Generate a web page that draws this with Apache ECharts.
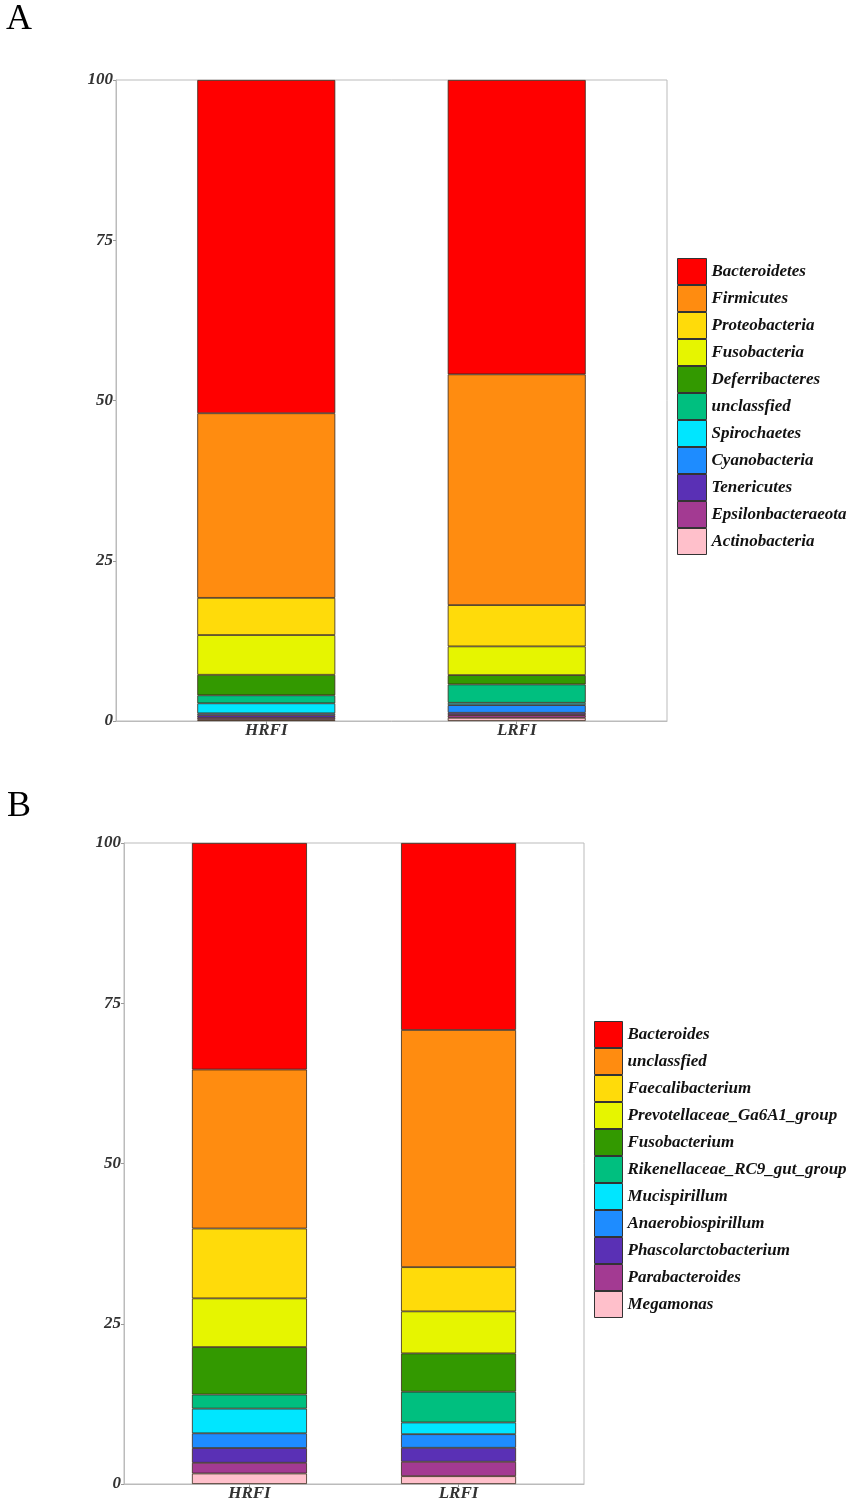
<!DOCTYPE html>
<html>
<head>
<meta charset="utf-8">
<script src="https://cdn.jsdelivr.net/npm/echarts@6/dist/echarts.min.js"></script>
<style>
  html, body { margin: 0; padding: 0; background: #fff; }
  #chart { width: 851px; height: 1504px; }
</style>
</head>
<body>
<div id="chart"></div>
<script>
var groups = ['HRFI', 'LRFI'];
// category slots so that the two bars sit where the original plot put them
var slots = ['', '', '', 'HRFI', '', '', '', '', 'LRFI', '', '', ''];
var colors = ['#FF0000', '#FF8C10', '#FFDB0A', '#E6F500', '#339900', '#00BF7F',
              '#00E6FF', '#1E8CFF', '#5A30B5', '#A33A92', '#FFC0CB'];
var yTicks = [0, 25, 50, 75, 100];

// panel A: phylum level
var phylumNames = ['Bacteroidetes', 'Firmicutes', 'Proteobacteria', 'Fusobacteria', 'Deferribacteres',
                   'unclassfied', 'Spirochaetes', 'Cyanobacteria', 'Tenericutes', 'Epsilonbacteraeota', 'Actinobacteria'];
var phylumHRFI = [51.99, 28.8, 5.8, 6.2, 3.2, 1.25, 1.56, 0.3, 0.4, 0.3, 0.2];
var phylumLRFI = [45.92, 36.0, 6.44, 4.48, 1.45, 2.87, 0.36, 1.2, 0.36, 0.42, 0.5];

// panel B: genus level
var genusNames = ['Bacteroides', 'unclassfied', 'Faecalibacterium', 'Prevotellaceae_Ga6A1_group', 'Fusobacterium',
                  'Rikenellaceae_RC9_gut_group', 'Mucispirillum', 'Anaerobiospirillum', 'Phascolarctobacterium',
                  'Parabacteroides', 'Megamonas'];
var genusHRFI = [35.34, 24.8, 10.9, 7.6, 7.4, 2.2, 3.85, 2.3, 2.3, 1.67, 1.64];
var genusLRFI = [29.17, 37.0, 6.9, 6.55, 5.98, 4.8, 1.83, 2.12, 2.18, 2.25, 1.22];

var serif = 'Liberation Serif, Times New Roman, serif';
var myChart = echarts.init(document.getElementById('chart'));

function isGroup(i) {
    return groups.indexOf(slots[i]) >= 0;
}

function buildSeries(names, hr, lr, idx, barW) {
    var res = [];
    // bottom of the stack is the last taxon
    for (var i = names.length - 1; i >= 0; i--) {
        var data = slots.map(function (s) {
            if (s === groups[0]) return hr[i];
            if (s === groups[1]) return lr[i];
            return null;
        });
        res.push({
            type: 'bar',
            name: names[i],
            stack: 'p' + idx,
            xAxisIndex: idx,
            yAxisIndex: idx,
            barWidth: barW,
            data: data,
            itemStyle: { color: colors[i], borderColor: '#3a2a1a', borderWidth: 0.8 }
        });
    }
    return res;
}

function legendData(names) {
    return names.map(function (n, i) {
        return { name: n, itemStyle: { color: colors[i], borderColor: '#333', borderWidth: 1 } };
    });
}

function xAxis(idx) {
    return {
        type: 'category', gridIndex: idx, data: slots, boundaryGap: false,
        splitLine: { show: false },
        axisLine: { show: true, lineStyle: { color: '#bbb' } },
        axisTick: { show: true, interval: isGroup, length: 3, lineStyle: { color: '#999' } },
        axisLabel: {
            interval: isGroup, margin: 1,
            fontFamily: serif, fontStyle: 'italic', fontWeight: 'bold', fontSize: 17, color: '#333'
        }
    };
}

function yAxis(idx) {
    return {
        type: 'value', gridIndex: idx, min: 0, max: 100, interval: 25,
        splitLine: { show: false },
        axisLine: { show: true, lineStyle: { color: '#bbb' } },
        axisTick: { show: true, length: 3, lineStyle: { color: '#999' } },
        axisLabel: {
            margin: 3,
            formatter: function (v) { return yTicks.indexOf(v) >= 0 ? String(v) : ''; },
            fontFamily: serif, fontStyle: 'italic', fontWeight: 'bold', fontSize: 17, color: '#333'
        }
    };
}

var legendText = { fontFamily: serif, fontStyle: 'italic', fontWeight: 'bold', fontSize: 17, color: '#111' };

var option = {
    animation: false,
    backgroundColor: '#fff',
    title: [
        { text: 'A', left: 6, top: 2, padding: 0, textStyle: { fontFamily: serif, fontWeight: 'normal', fontSize: 36, color: '#000' } },
        { text: 'B', left: 7, top: 789, padding: 0, textStyle: { fontFamily: serif, fontWeight: 'normal', fontSize: 36, color: '#000' } }
    ],
    grid: [
        { left: 116, top: 80, width: 551, height: 641, show: true, borderColor: '#bbb', borderWidth: 1, backgroundColor: '#fff' },
        { left: 124, top: 843, width: 460, height: 641, show: true, borderColor: '#bbb', borderWidth: 1, backgroundColor: '#fff' }
    ],
    legend: [
        {
            orient: 'vertical', left: 677, top: 258, padding: 0, itemWidth: 29, itemHeight: 26, itemGap: 0,
            icon: 'rect', selectedMode: false, textStyle: legendText, data: legendData(phylumNames)
        },
        {
            orient: 'vertical', left: 594, top: 1021, padding: 0, itemWidth: 28, itemHeight: 26, itemGap: 0,
            icon: 'rect', selectedMode: false, textStyle: legendText, data: legendData(genusNames)
        }
    ],
    xAxis: [xAxis(0), xAxis(1)],
    yAxis: [yAxis(0), yAxis(1)],
    series: buildSeries(phylumNames, phylumHRFI, phylumLRFI, 0, 138)
        .concat(buildSeries(genusNames, genusHRFI, genusLRFI, 1, 115))
};

myChart.setOption(option);
window.addEventListener('resize', function () {
    myChart.resize();
});
</script>
</body>
</html>
